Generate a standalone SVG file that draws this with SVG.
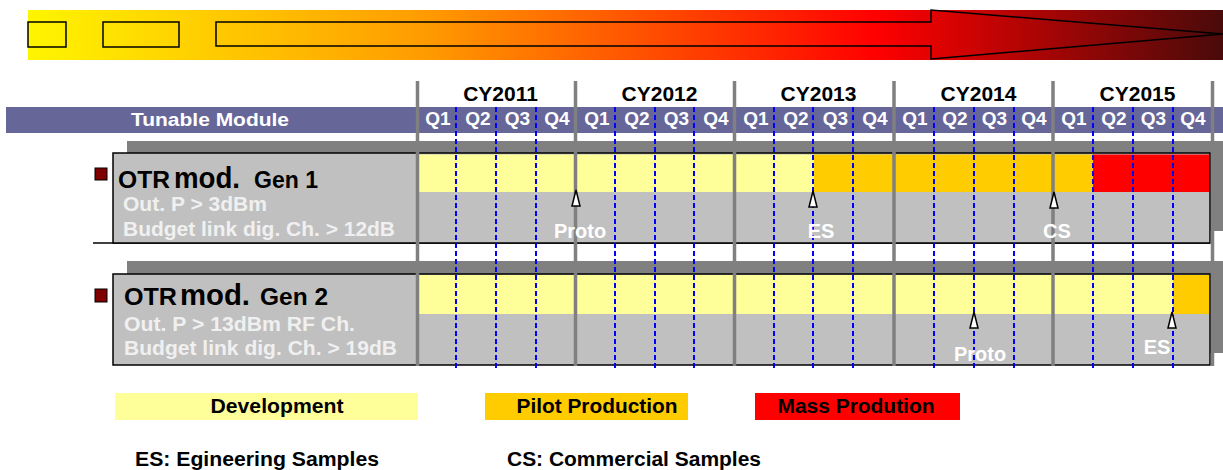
<svg xmlns="http://www.w3.org/2000/svg" width="1223" height="470" viewBox="0 0 1223 470">
<defs>
<linearGradient id="bannerGrad" x1="28" y1="0" x2="1223" y2="0" gradientUnits="userSpaceOnUse">
<stop offset="0" stop-color="#FFF500"/>
<stop offset="0.33" stop-color="#FF9C00"/>
<stop offset="0.71" stop-color="#FF0000"/>
<stop offset="1" stop-color="#4A0A0A"/>
</linearGradient>
<style>
text{font-family:"Liberation Sans",Arial,sans-serif;font-weight:bold}
.bx{fill:none;stroke:#000;stroke-width:1.5}
.shadow{fill:#808080}
.panel{fill:#C0C0C0}
.frame{fill:none;stroke:#000;stroke-width:1.5}
.dev{fill:#FFFF99}
.pilot{fill:#FFCC00}
.mass{fill:#FF0000}
.dash{stroke:#0000FF;stroke-width:2;stroke-dasharray:5 3;fill:none}
.yr{stroke:#808080;stroke-width:3.5}
.cy{font-size:21px;fill:#000;text-anchor:middle}
.q{font-size:19px;fill:#FFFFFF;text-anchor:middle}
.sub{font-size:20px;fill:#F0F0F0}
.lbl{font-size:20px;fill:#FFFFFF;text-anchor:middle}
.ms{fill:#FFFFFF;stroke:#000;stroke-width:1.5}
.sq{fill:#800000;stroke:#000;stroke-width:1}
.leg{font-size:20px;fill:#000;text-anchor:middle}
</style>
</defs>

<g id="banner">
<rect x="28" y="10" width="1195" height="50" fill="url(#bannerGrad)"/>
<rect class="bx" x="28" y="22" width="38" height="25"/>
<rect class="bx" x="103" y="22" width="76" height="25"/>
<path class="bx" d="M216,22 H931 V10 L1223,34 L931,59 V46 H216 Z"/>
</g>

<g id="header">
<rect x="6" y="107" width="1217" height="26" fill="#666699"/>
<text x="210" y="126" font-size="19" fill="#FFFFFF" text-anchor="middle" textLength="158" lengthAdjust="spacingAndGlyphs">Tunable Module</text>
<text class="cy" x="500.5" y="101">CY2011</text>
<text class="cy" x="659.5" y="101">CY2012</text>
<text class="cy" x="818.5" y="101">CY2013</text>
<text class="cy" x="978.5" y="101">CY2014</text>
<text class="cy" x="1137.5" y="101">CY2015</text>
<text class="q" x="438" y="125">Q1</text>
<text class="q" x="478" y="125">Q2</text>
<text class="q" x="517.5" y="125">Q3</text>
<text class="q" x="557" y="125">Q4</text>
<text class="q" x="597" y="125">Q1</text>
<text class="q" x="637" y="125">Q2</text>
<text class="q" x="676.5" y="125">Q3</text>
<text class="q" x="716" y="125">Q4</text>
<text class="q" x="756" y="125">Q1</text>
<text class="q" x="796" y="125">Q2</text>
<text class="q" x="835.5" y="125">Q3</text>
<text class="q" x="875" y="125">Q4</text>
<text class="q" x="915" y="125">Q1</text>
<text class="q" x="955" y="125">Q2</text>
<text class="q" x="994.5" y="125">Q3</text>
<text class="q" x="1034" y="125">Q4</text>
<text class="q" x="1074" y="125">Q1</text>
<text class="q" x="1114" y="125">Q2</text>
<text class="q" x="1153.5" y="125">Q3</text>
<text class="q" x="1193" y="125">Q4</text>
</g>

<g id="row-gen1">
<rect class="shadow" x="127" y="141" width="1096" height="90"/>
<line x1="93" y1="243" x2="1210" y2="243" stroke="#000" stroke-width="1.5"/>
<rect class="panel" x="113" y="153" width="1097" height="90"/>
<rect class="dev" x="418" y="154.5" width="396" height="37.5"/>
<rect class="pilot" x="814" y="154.5" width="279" height="37.5"/>
<rect class="mass" x="1093" y="154.5" width="117" height="37.5"/>
<rect class="frame" x="113" y="153" width="1097" height="90"/>
<rect class="sq" x="95" y="168" width="12" height="12"/>
<text y="188" fill="#000"><tspan x="118" font-size="24" textLength="52" lengthAdjust="spacingAndGlyphs">OTR</tspan><tspan x="174" font-size="29" textLength="66" lengthAdjust="spacingAndGlyphs">mod.</tspan><tspan x="254" font-size="23" textLength="64" lengthAdjust="spacingAndGlyphs">Gen 1</tspan></text>
<text class="sub" x="123" y="211" textLength="144" lengthAdjust="spacingAndGlyphs">Out. P &gt; 3dBm</text>
<text class="sub" x="123" y="236" textLength="272" lengthAdjust="spacingAndGlyphs">Budget link dig. Ch. &gt; 12dB</text>
</g>

<g id="row-gen2">
<rect class="shadow" x="127" y="261" width="1096" height="92"/>
<rect class="panel" x="113" y="274" width="1097" height="91"/>
<rect class="dev" x="418" y="275" width="755" height="39"/>
<rect class="pilot" x="1173" y="275" width="37" height="39"/>
<rect class="frame" x="113" y="274" width="1097" height="91"/>
<rect class="sq" x="95" y="289" width="12" height="13"/>
<text y="305" fill="#000"><tspan x="124" font-size="24" textLength="53" lengthAdjust="spacingAndGlyphs">OTR</tspan><tspan x="180" font-size="29" textLength="70" lengthAdjust="spacingAndGlyphs">mod.</tspan><tspan x="260" font-size="23" textLength="68" lengthAdjust="spacingAndGlyphs">Gen 2</tspan></text>
<text class="sub" x="124" y="331" textLength="231" lengthAdjust="spacingAndGlyphs">Out. P &gt; 13dBm RF Ch.</text>
<text class="sub" x="124" y="355" textLength="273" lengthAdjust="spacingAndGlyphs">Budget link dig. Ch. &gt; 19dB</text>
</g>

<g id="grid">
<path class="dash" d="M456,107V368 M496,107V368 M536,107V368 M615,107V368 M655,107V368 M694,107V368 M774,107V368 M813,107V368 M853,107V368 M934,107V368 M974,107V368 M1014,107V368 M1093,107V368 M1133,107V368 M1173,107V368"/>
<path class="yr" d="M417.5,81V366 M575.5,81V366 M734.5,81V366 M894,81V366 M1053,81V366 M1212.5,81V366"/>
</g>

<g id="milestones">
<path class="ms" d="M576,190 L580,206 H572 Z"/>
<text class="lbl" x="580" y="238">Proto</text>
<path class="ms" d="M813,191 L817,207 H809 Z"/>
<text class="lbl" x="821" y="238">ES</text>
<path class="ms" d="M1054,192 L1058,208 H1050 Z"/>
<text class="lbl" x="1057" y="238">CS</text>
<path class="ms" d="M974,312 L978,328 H970 Z"/>
<text class="lbl" x="980" y="361">Proto</text>
<path class="ms" d="M1172,312 L1176,328 H1168 Z"/>
<text class="lbl" x="1157" y="354">ES</text>
</g>

<g id="legend">
<rect class="dev" x="115" y="393" width="303" height="27"/>
<text class="leg" x="277" y="413" textLength="133" lengthAdjust="spacingAndGlyphs">Development</text>
<rect class="pilot" x="485" y="393" width="203" height="27"/>
<text class="leg" x="597" y="413" textLength="161" lengthAdjust="spacingAndGlyphs">Pilot Production</text>
<rect class="mass" x="755" y="393" width="205" height="27"/>
<text class="leg" x="856" y="413" textLength="157" lengthAdjust="spacingAndGlyphs">Mass Prodution</text>
<text x="135" y="466" font-size="20" fill="#000" textLength="244" lengthAdjust="spacingAndGlyphs">ES: Egineering Samples</text>
<text x="507" y="466" font-size="20" fill="#000" textLength="254" lengthAdjust="spacingAndGlyphs">CS: Commercial Samples</text>
</g>
</svg>
